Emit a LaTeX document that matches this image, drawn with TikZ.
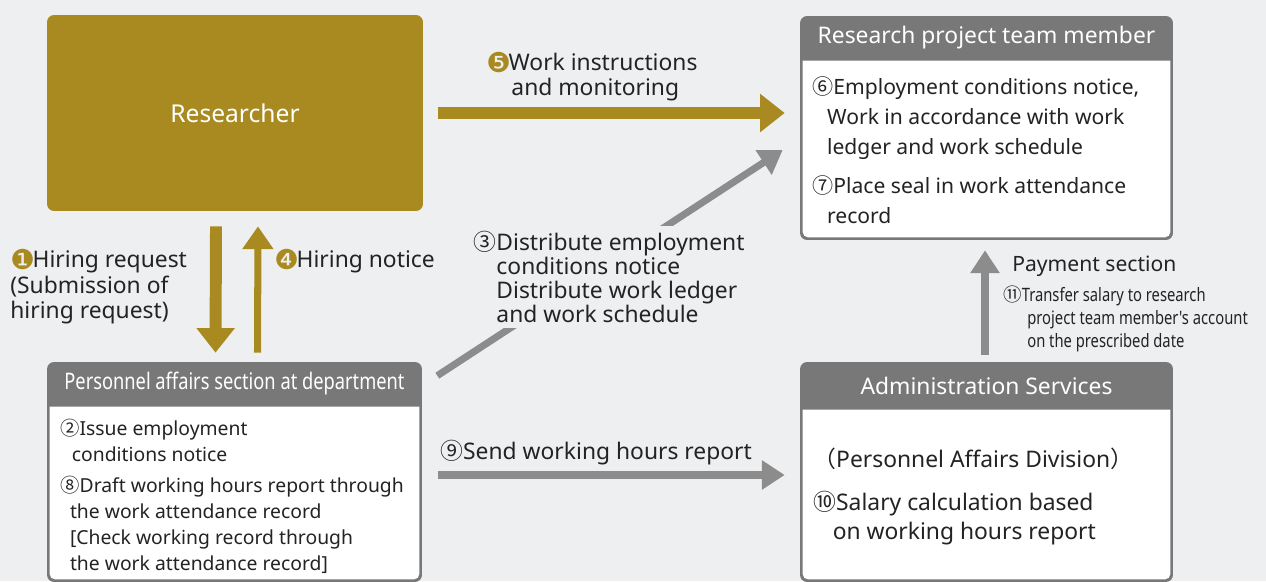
\documentclass[tikz,border=0pt]{standalone}
\usepackage{fontspec}
\setmainfont{Noto Sans}
\newfontfamily\cjkfont{Noto Sans CJK JP}
\newfontfamily\dingfont{DejaVu Sans}
\newfontfamily\narrowfont[FakeStretch=0.8]{Noto Sans}
\usepackage{tikz}
\usetikzlibrary{arrows.meta,positioning,calc}

\definecolor{bggray}{RGB}{238,239,241}
\definecolor{gold}{RGB}{168,138,32}
\definecolor{headgray}{RGB}{120,120,120}
\definecolor{arrowgray}{RGB}{140,140,140}
\definecolor{ink}{RGB}{35,35,35}

\newcommand{\cn}[1]{{\cjkfont #1}}
\newcommand{\gn}[1]{\smash{\raisebox{-0.1em}{\scalebox{1.2}{\dingfont\color{gold}#1}}}\hspace{-0.1em}}
\newcommand{\fs}[2]{\fontsize{#1}{#2}\selectfont}

\begin{document}
\begin{tikzpicture}[x=0.02cm, y=-0.02cm,
  panel/.style={rectangle, fill=headgray, rounded corners=4pt, inner sep=0pt},
  headtext/.style={text=white, inner sep=0pt, font=\fs{13}{15}},
  bodytext/.style={text=ink, anchor=north west, align=left, inner sep=0pt},
  note/.style={text=ink, anchor=north west, align=left, inner sep=0pt, font=\fs{13}{14.7}},
  goldarrow/.style={draw=gold, line width=6.8pt, -{Triangle[width=21pt, length=14pt]}},
  thinarrow/.style={draw=gold, line width=4pt, -{Triangle[width=17pt, length=13pt]}},
  grayarrow/.style={draw=arrowgray, line width=4pt, -{Triangle[width=16pt, length=13pt]}}]

\path[use as bounding box, fill=bggray] (0,0) rectangle (1266,581);

% Boxes
\node[panel, fill=gold, minimum width=7.52cm, minimum height=3.92cm, text=white, font=\fs{14}{16}] (researcher) at (235,113) {Researcher};

\node[panel, minimum width=7.46cm, minimum height=4.48cm] (member) at (986.5,128) {};
\fill[white] ($(member.north west)+(3,45)$) [rounded corners=3pt] -- ($(member.south west)+(3,-3)$) -- ($(member.south east)+(-3,-3)$) [sharp corners] -- ($(member.north east)+(-3,45)$) -- cycle;
\node[headtext] (memberhead) at ($(member.north)+(0,22)$) {Research project team member};

\node[panel, minimum width=7.5cm, minimum height=4.4cm] (personnel) at (234.5,472) {};
\fill[white] ($(personnel.north west)+(3,45)$) [rounded corners=3pt] -- ($(personnel.south west)+(3,-3)$) -- ($(personnel.south east)+(-3,-3)$) [sharp corners] -- ($(personnel.north east)+(-3,45)$) -- cycle;
\node[headtext, font=\narrowfont\fs{13}{15}] (personnelhead) at ($(personnel.north)+(0,22)$) {Personnel affairs section at department};

\node[panel, minimum width=7.46cm, minimum height=4.4cm] (admin) at (986.5,472) {};
\fill[white] ($(admin.north west)+(3,48)$) [rounded corners=3pt] -- ($(admin.south west)+(3,-3)$) -- ($(admin.south east)+(-3,-3)$) [sharp corners] -- ($(admin.north east)+(-3,48)$) -- cycle;
\node[headtext] (adminhead) at ($(admin.north)+(0,24)$) {Administration Services};

% Box texts
\node[bodytext, font=\fs{12}{17.3}] (notice6) at (812,76) {\cn{⑥}Employment conditions notice,\\\hspace*{0.7em}Work in accordance with work\\\hspace*{0.7em}ledger and work schedule};
\node[bodytext, font=\fs{12}{17.3}] (seal7) at (812,175) {\cn{⑦}Place seal in work attendance\\\hspace*{0.7em}record};

\node[bodytext, font=\fs{11}{14.7}] (issue2) at (60,419) {\cn{②}Issue employment\\\hspace*{0.6em}conditions notice};
\node[bodytext, font=\fs{11}{14.7}] (draft8) at (60,476) {\cn{⑧}Draft working hours report through\\\hspace*{0.5em}the work attendance record\\\hspace*{0.5em}[Check working record through\\\hspace*{0.5em}the work attendance record]};

\node[bodytext, font=\fs{13}{16.4}] (division) at (813,448) {\cn{（}Personnel Affairs Division\cn{）}};
\node[bodytext, font=\fs{13}{16.4}] (salary10) at (813,491) {\cn{⑩}Salary calculation based\\\hspace*{0.85em}on working hours report};

% Arrows
\draw[goldarrow] ($(researcher.south)+(-19,15)$) -- ($(personnel.north)+(-19,-9)$);
\draw[thinarrow] ($(personnel.north)+(23,-9)$) -- ($(researcher.south)+(23,15)$);
\draw[goldarrow] ($(researcher.east)+(15,0)$) -- ($(member.west)+(-15,-15)$);
\draw[grayarrow] ($(personnel.north east)+(15,14)$) -- ($(member.west)+(-17,22)$);
\draw[grayarrow] ($(personnel.east)+(16,3)$) -- ($(admin.west)+(-15,3)$);
\draw[grayarrow, line width=4.5pt] ($(admin.north)+(-1.5,-7)$) -- ($(member.south)+(-1.5,10)$);

% Arrow labels
\node[note] (hiring1) at (10,250) {\gn{❶}Hiring request\\(Submission of\\hiring request)};
\node[note] (hiring4) at (274,250) {\gn{❹}Hiring notice};
\node[note, font=\fs{13}{14.2}] (work5) at (486,53) {\gn{❺}Work instructions\\\hspace*{1.1em}and monitoring};
\node[note, font=\fs{13}{13.6}, fill=bggray, inner sep=3pt] (dist3) at (468,226) {\cn{③}Distribute employment\\\hspace*{1em}conditions notice\\\hspace*{1em}Distribute work ledger\\\hspace*{1em}and work schedule};
\node[note] (send9) at (440,440) {\cn{⑨}Send working hours report};
\node[note, font=\fs{12}{14}] (payment) at (1012,256) {Payment section};
\node[note, font=\narrowfont\fs{10.5}{13}] (transfer11) at (1003,286) {\cn{⑪}Transfer salary to research\\\hspace*{1.3em}project team member's account\\\hspace*{1.3em}on the prescribed date};

\end{tikzpicture}
\end{document}
